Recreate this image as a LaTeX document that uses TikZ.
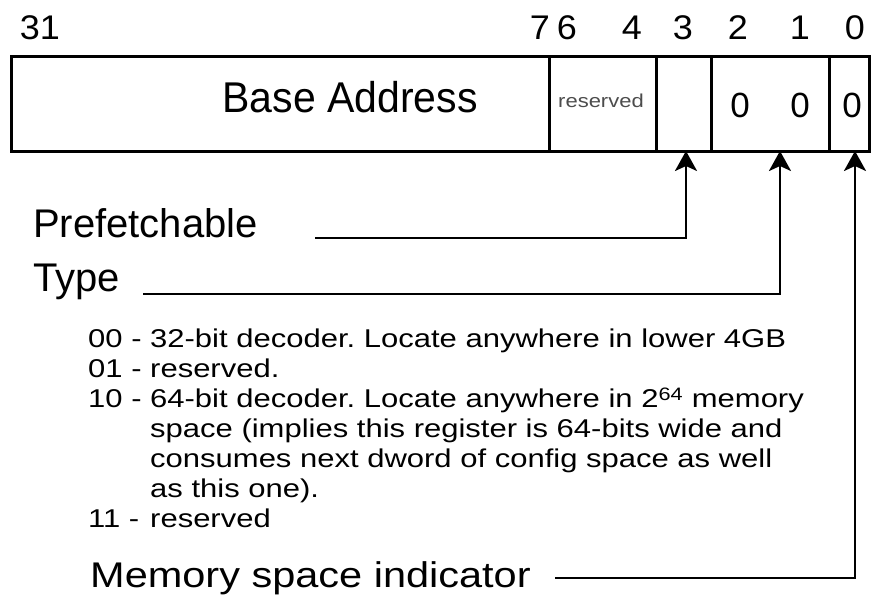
\documentclass[tikz,border=0pt]{standalone}
\usepackage{fontspec}
\setmainfont{Liberation Sans}
\usetikzlibrary{arrows.meta,positioning}
\frenchspacing
\tikzset{
  field/.style   = {draw, line width=2.6pt, minimum height=95pt, inner sep=0pt,
                    anchor=north west},
  bitnum/.style  = {font=\fontsize{36}{36}\selectfont, anchor=base, inner sep=0pt, yscale=0.95},
  biglab/.style  = {font=\fontsize{40}{40}\selectfont, anchor=base west, inner sep=0pt},
  bitval/.style  = {font=\fontsize{35}{35}\selectfont, anchor=base, inner sep=0pt},
  listtxt/.style = {font=\fontsize{31}{36}\selectfont, anchor=base west, inner sep=0pt,
                    yscale=0.83},
  ptr/.style     = {-{Stealth[length=20pt,width=22pt,inset=5pt]}, line width=2.6pt},
}

\begin{document}
\begin{tikzpicture}[x=1pt,y=-1pt]
\useasboundingbox (0,0) rectangle (873,601);
% bit numbers
\foreach \b/\x in {31/40,7/540,6/567,4/632,3/683,2/738,1/800,0/855}
  \node[bitnum] (bit\b) at (\x,40) {\b};
% register fields
\node[field, minimum width=538pt] (base) at (10,55) {};
\node[field, minimum width=107pt] (res)  at (548,55) {};
\node[field, minimum width=55pt]  (pf)   at (655,55) {};
\node[field, minimum width=118pt] (type) at (710,55) {};
\node[field, minimum width=40pt]  (msi)  at (828,55) {};
\node[biglab, anchor=base, font=\fontsize{41}{41}\selectfont, yscale=1.05] (baselab) at (350,113) {Base Address};
\node[anchor=base, inner sep=0pt, text=black!70, font=\fontsize{22}{22}\selectfont,
      yscale=0.85] (reslab) at (601,108) {reserved};
\node[bitval] (v2) at (740,118) {0};
\node[bitval] (v1) at (800,118) {0};
\node[bitval] (v0) at (852,118) {0};
% labels
\node[biglab] (pflab)   at (33,238) {Prefetchable};
\node[biglab] (typelab) at (33,292) {Type};
\node[biglab, font=\fontsize{41.5}{41.5}\selectfont, yscale=0.86] (msilab) at (90,587) {Memory space indicator};
\node[listtxt] (types) at (88,348) {\begin{tabular}[t]{@{}l@{\ }l@{}}
00 - & 32-bit decoder. Locate anywhere in lower 4GB\\
01 - & reserved.\\
10 - & 64-bit decoder. Locate anywhere in 2\textsuperscript{64} memory\\
     & space (implies this register is 64-bits wide and\\
     & consumes next dword of config space as well\\
     & as this one).\\
11 - & reserved
\end{tabular}};
% pointers
\coordinate (pfstart)   at (315,238);
\coordinate (pftip)     at (686,151);
\coordinate (typestart) at (143,294);
\coordinate (typetip)   at (780,151);
\coordinate (msistart)  at (555,578);
\coordinate (msitip)    at (855,151);
\draw[ptr] (pfstart) -| (pftip);
\draw[ptr] (typestart) -| (typetip);
\draw[ptr] (msistart) -| (msitip);
\end{tikzpicture}
\end{document}
